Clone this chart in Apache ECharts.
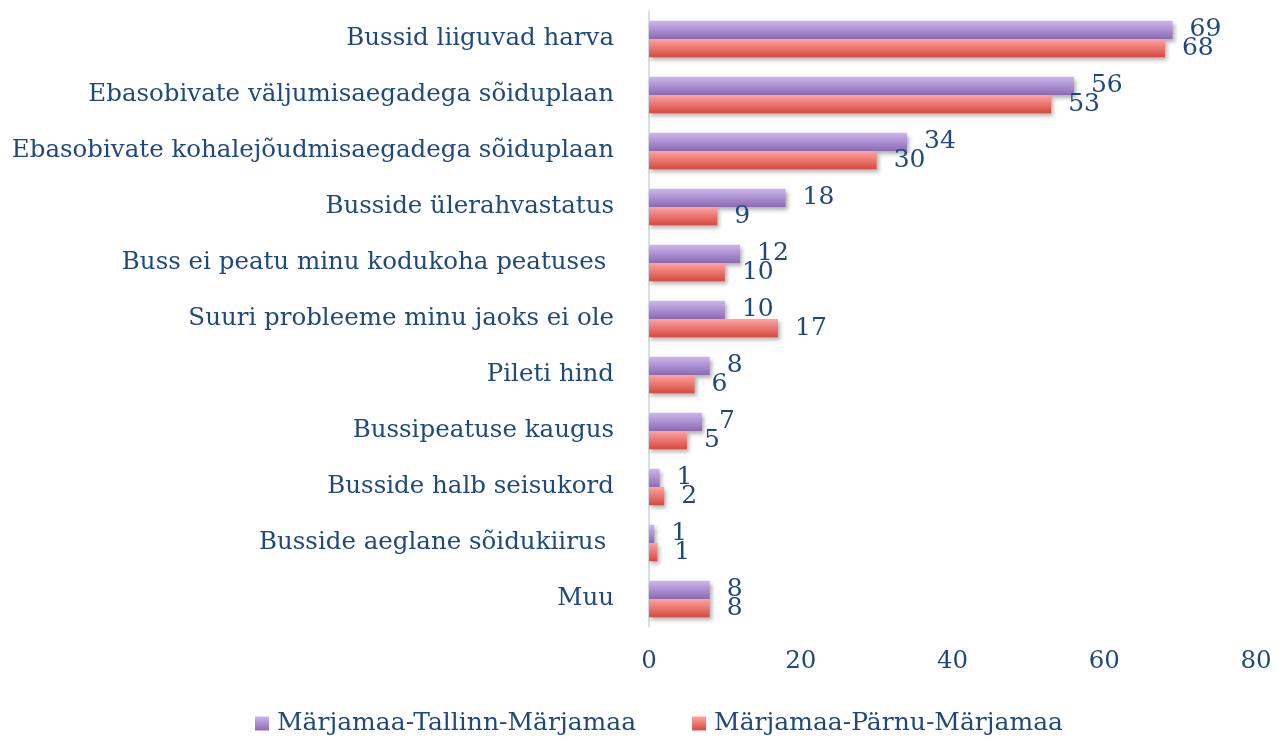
<!DOCTYPE html>
<html>
<head>
<meta charset="utf-8">
<script src="https://cdn.jsdelivr.net/npm/echarts@6/dist/echarts.min.js"></script>
<style>
  html, body { margin: 0; padding: 0; background: #fff; }
  #chart { width: 1287px; height: 741px; }
</style>
</head>
<body>
<div id="chart"></div>
<script>
// andmed
const categories = [
  'Bussid liiguvad harva',
  'Ebasobivate väljumisaegadega sõiduplaan',
  'Ebasobivate kohalejõudmisaegadega sõiduplaan',
  'Busside ülerahvastatus',
  'Buss ei peatu minu kodukoha peatuses ',
  'Suuri probleeme minu jaoks ei ole',
  'Pileti hind',
  'Bussipeatuse kaugus',
  'Busside halb seisukord',
  'Busside aeglane sõidukiirus ',
  'Muu'
];
const tallinnValues = [69, 56, 34, 18, 12, 10, 8, 7, 1.4, 0.7, 8];
const parnuValues = [68, 53, 30, 9, 10, 17, 6, 5, 2, 1.1, 8];
const seriesNames = ['Märjamaa-Tallinn-Märjamaa', 'Märjamaa-Pärnu-Märjamaa'];

const textColor = '#1F497D';
const font = 'DejaVu Serif';

function grad(top, bottom) {
  return new echarts.graphic.LinearGradient(0, 0, 0, 1, [
    { offset: 0, color: top },
    { offset: 1, color: bottom }
  ]);
}

const chart = echarts.init(document.getElementById('chart'));

function barSeries(name, data, top, bottom) {
  return {
    name: name,
    type: 'bar',
    data: data,
    barGap: '0%',
    barCategoryGap: '35%',
    itemStyle: {
      color: grad(top, bottom),
      shadowColor: 'rgba(0,0,0,0.3)',
      shadowBlur: 4,
      shadowOffsetY: 3,
      shadowOffsetX: 2
    },
    label: {
      show: true,
      position: 'right',
      distance: 17,
      color: textColor,
      fontFamily: font,
      fontSize: 25,
      formatter: (p) => Math.round(p.value)
    }
  };
}

chart.setOption({
  backgroundColor: '#fff',
  animation: false,
  textStyle: { fontFamily: font },
  grid: { left: 649, right: 31, top: 11, bottom: 114, containLabel: false },
  legend: {
    bottom: 0,
    left: 250,
    itemGap: 56,
    itemWidth: 14,
    itemHeight: 14,
    icon: 'rect',
    textStyle: { color: textColor, fontFamily: font, fontSize: 25, padding: [0, 0, 0, 3] },
    data: seriesNames
  },
  xAxis: {
    type: 'value',
    min: 0,
    max: 80,
    interval: 20,
    axisLine: { show: false },
    axisTick: { show: false },
    splitLine: { show: false },
    axisLabel: { color: textColor, fontFamily: font, fontSize: 24.5, margin: 22 }
  },
  yAxis: {
    type: 'category',
    inverse: true,
    data: categories,
    axisLine: { show: true, lineStyle: { color: '#C6D6EC', width: 1.5 } },
    axisTick: { show: false },
    axisLabel: { color: textColor, fontFamily: font, fontSize: 24.5, margin: 35 }
  },
  series: [
    barSeries(seriesNames[0], tallinnValues, '#CBB6EC', '#8C6AB4'),
    barSeries(seriesNames[1], parnuValues, '#FFA39E', '#D64A40')
  ]
});
</script>
</body>
</html>
